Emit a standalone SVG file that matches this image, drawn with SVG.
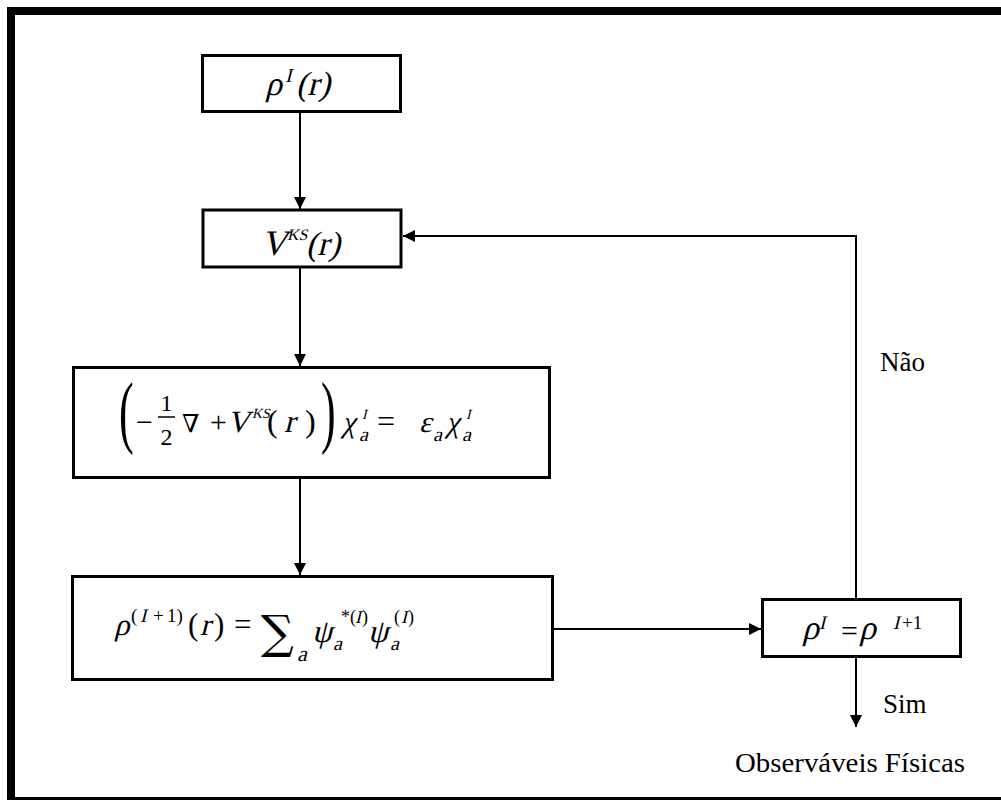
<svg xmlns="http://www.w3.org/2000/svg" width="1001" height="800" viewBox="0 0 1001 800">
<style>
.box{fill:#fff;stroke:#000;stroke-width:3}
.con{fill:none;stroke:#000;stroke-width:2}
.m{font-family:"Liberation Serif","DejaVu Serif",serif;fill:#000}
.dj{font-family:"DejaVu Serif",serif;fill:#000}
.lbl{font-family:"Liberation Serif",serif;font-size:27px;fill:#000}
</style>
<defs>
<marker id="ah" viewBox="0 0 10 10" refX="10" refY="5" markerWidth="12" markerHeight="12" markerUnits="userSpaceOnUse" orient="auto">
<path d="M0,0 L10,5 L0,10 z" fill="#000"/>
</marker>
</defs>
<rect x="0" y="0" width="1001" height="800" fill="#fff"/>
<rect x="11" y="11" width="1000" height="790" fill="none" stroke="#000" stroke-width="8"/>

<g id="connectors">
<line class="con" x1="300" y1="112" x2="300" y2="209" marker-end="url(#ah)"/>
<line class="con" x1="300" y1="268" x2="300" y2="366" marker-end="url(#ah)"/>
<line class="con" x1="300" y1="479" x2="300" y2="575" marker-end="url(#ah)"/>
<line class="con" x1="553" y1="629" x2="761" y2="629" marker-end="url(#ah)"/>
<polyline class="con" points="856,599 856,236 403,236" marker-end="url(#ah)"/>
<line class="con" x1="856" y1="657" x2="856" y2="727" marker-end="url(#ah)"/>
<text class="lbl" x="880" y="371">Não</text>
<text class="lbl" x="883" y="713">Sim</text>
</g>

<g id="n1">
<rect class="box" x="202.5" y="55.5" width="198" height="56"/>
<g transform="translate(265,95) skewX(-14)"><text class="m" font-size="34">ρ</text></g>
<g transform="translate(285,82) skewX(-14)"><text class="m" font-size="20">I</text></g>
<g transform="translate(296,95) skewX(-14)"><text class="m" font-size="34">(r)</text></g>
</g>

<g id="n2">
<rect class="box" x="203" y="210" width="198" height="57"/>
<g transform="translate(261,255) skewX(-14)"><text class="m" font-size="36">V</text></g>
<g transform="translate(287,240) skewX(-14)"><text class="m" font-size="16">KS</text></g>
<g transform="translate(306,255) skewX(-14)"><text class="m" font-size="34">(r)</text></g>
</g>

<g id="n3">
<rect class="box" x="73.5" y="367.5" width="476" height="110"/>
<text class="m" font-size="80" transform="translate(119,438) scale(0.55,1)">(</text>
<text class="m" x="136" y="432" font-size="30">−</text>
<text class="m" x="166.5" y="411" font-size="24" text-anchor="middle">1</text>
<line x1="158" y1="417" x2="175" y2="417" stroke="#000" stroke-width="1.5"/>
<text class="m" x="166.5" y="445" font-size="24" text-anchor="middle">2</text>
<text class="dj" x="182" y="432" font-size="25">∇</text>
<text class="m" x="210" y="432" font-size="30">+</text>
<g transform="translate(227,432) skewX(-14)"><text class="m" font-size="31">V</text></g>
<g transform="translate(252,418) skewX(-14)"><text class="m" font-size="14">KS</text></g>
<text class="m" x="267" y="432" font-size="32">(</text>
<g transform="translate(284,432) skewX(-14)"><text class="m" font-size="32">r</text></g>
<text class="m" x="305" y="432" font-size="32">)</text>
<text class="m" font-size="80" transform="translate(321,438) scale(0.55,1)">)</text>
<g transform="translate(342,432) skewX(-14)"><text class="m" font-size="30">χ</text></g>
<g transform="translate(362,419) skewX(-14)"><text class="m" font-size="14">I</text></g>
<g transform="translate(359,441) skewX(-14)"><text class="m" font-size="20">a</text></g>
<text class="m" x="377" y="432" font-size="32">=</text>
<g transform="translate(419,432) skewX(-14)"><text class="m" font-size="30">ε</text></g>
<g transform="translate(433,441) skewX(-14)"><text class="m" font-size="20">a</text></g>
<g transform="translate(446,432) skewX(-14)"><text class="m" font-size="30">χ</text></g>
<g transform="translate(466,419) skewX(-14)"><text class="m" font-size="14">I</text></g>
<g transform="translate(462,441) skewX(-14)"><text class="m" font-size="20">a</text></g>
</g>

<g id="n4">
<rect class="box" x="72.5" y="576.5" width="480" height="103"/>
<g transform="translate(114,635) skewX(-14)"><text class="m" font-size="31">ρ</text></g>
<text class="m" x="131" y="622" font-size="19">(</text>
<g transform="translate(140,622) skewX(-14)"><text class="m" font-size="19">I</text></g>
<text class="m" x="153" y="622" font-size="19">+</text>
<text class="m" x="167" y="622" font-size="19">1)</text>
<text class="m" x="188" y="635" font-size="31">(</text>
<g transform="translate(200,635) skewX(-14)"><text class="m" font-size="31">r</text></g>
<text class="m" x="214" y="635" font-size="31">)</text>
<text class="m" x="234" y="635" font-size="31">=</text>
<text class="dj" x="261" y="648" font-size="46">∑</text>
<g transform="translate(297,661) skewX(-14)"><text class="m" font-size="22">a</text></g>
<g transform="translate(312,642) skewX(-14)"><text class="m" font-size="32">ψ</text></g>
<text class="m" x="341" y="623" font-size="18">*(</text>
<g transform="translate(355,623) skewX(-14)"><text class="m" font-size="18">I</text></g>
<text class="m" x="362" y="623" font-size="18">)</text>
<g transform="translate(333,650) skewX(-14)"><text class="m" font-size="20">a</text></g>
<g transform="translate(368,642) skewX(-14)"><text class="m" font-size="32">ψ</text></g>
<text class="m" x="394" y="623" font-size="18">(</text>
<g transform="translate(401,623) skewX(-14)"><text class="m" font-size="18">I</text></g>
<text class="m" x="408" y="623" font-size="18">)</text>
<g transform="translate(390,650) skewX(-14)"><text class="m" font-size="20">a</text></g>
</g>

<g id="n5">
<rect class="box" x="762.5" y="599.5" width="198" height="57"/>
<g transform="translate(802,639) skewX(-14)"><text class="m" font-size="34">ρ</text></g>
<g transform="translate(819,629) skewX(-14)"><text class="m" font-size="19">I</text></g>
<text class="m" x="841" y="641" font-size="30">=</text>
<g transform="translate(859,639) skewX(-14)"><text class="m" font-size="34">ρ</text></g>
<g transform="translate(893,629) skewX(-14)"><text class="m" font-size="19">I</text></g>
<text class="m" x="902" y="629" font-size="19">+1</text>
</g>

<g id="n6">
<text class="lbl" x="735" y="772" font-size="28" textLength="230" lengthAdjust="spacingAndGlyphs">Observáveis Físicas</text>
</g>
</svg>
